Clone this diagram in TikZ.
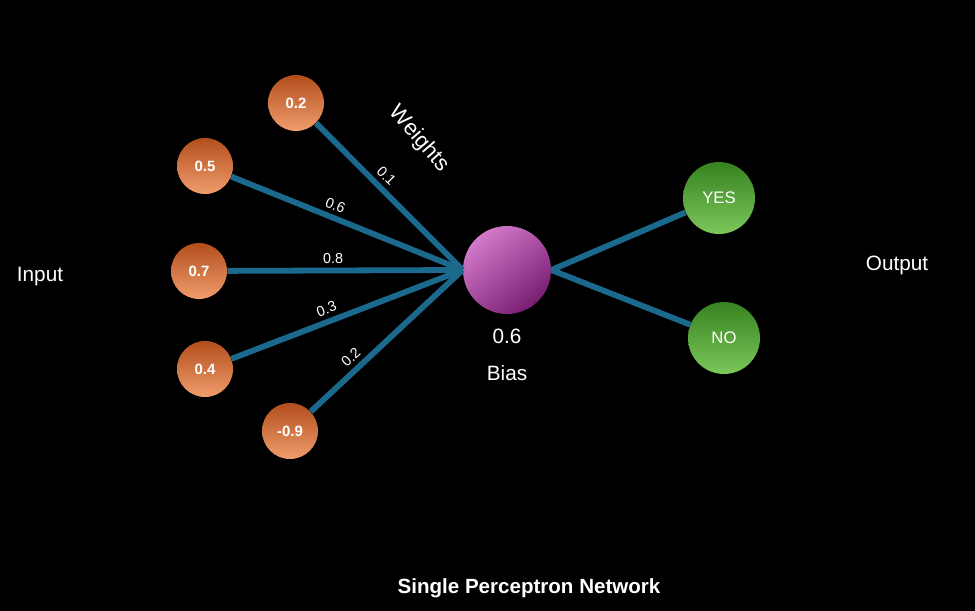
\documentclass[tikz,border=0pt]{standalone}
\usepackage{fontspec}
\setmainfont{Liberation Sans}
\usepackage{tikz}
\usetikzlibrary{positioning, calc}
\definecolor{wire}{HTML}{1B6A8E}
\definecolor{orgtop}{HTML}{B24E1C}
\definecolor{orgmid}{HTML}{DE6A2E}
\definecolor{orgbot}{HTML}{F09C6C}
\definecolor{grntop}{HTML}{37821F}
\definecolor{grnmid}{HTML}{45A02A}
\definecolor{grnbot}{HTML}{7CC85C}
\definecolor{biaslt}{HTML}{D47ACB}
\definecolor{biasmid}{HTML}{A6279E}
\definecolor{biasdk}{HTML}{781D70}
\tikzset{
  inp/.style    = {circle, minimum size=1.12cm, inner sep=0pt, top color=orgtop,
                   middle color=orgmid, bottom color=orgbot, text=white,
                   font=\fontsize{8.5}{10}\selectfont\bfseries},
  outp/.style   = {circle, minimum size=1.44cm, inner sep=0pt, top color=grntop,
                   middle color=grnmid, bottom color=grnbot, text=white,
                   font=\fontsize{9.5}{11}\selectfont},
  neuron/.style = {circle, minimum size=1.76cm, inner sep=0pt, top color=biaslt,
                   middle color=biasmid, bottom color=biasdk, shading angle=40},
  wt/.style     = {draw=wire, line width=3.3pt},
  wlbl/.style   = {font=\fontsize{8.2}{10}\selectfont, text=white, sloped, above,
                   inner sep=2.5pt},
  txt/.style    = {text=white, font=\fontsize{11.8}{14}\selectfont},
}
\begin{document}
\begin{tikzpicture}[x=0.02cm, y=-0.02cm]
  \fill[black] (0,0) rectangle (975,611);
  \useasboundingbox (0,0) rectangle (975,611);

  % inputs
  \node[inp] (x1) at (296,103) {0.2};
  \node[inp] (x2) at (205,166) {0.5};
  \node[inp] (x3) at (199,271) {0.7};
  \node[inp] (x4) at (205,369) {0.4};
  \node[inp] (x5) at (290,431) {-0.9};

  % perceptron and outputs
  \node[neuron] (bias) at (507,270) {};
  \node[outp] (yes) at (719,198) {YES};
  \node[outp] (no)  at (724,338) {NO};

  \node[txt] (biasval) at (507,336) {0.6};
  \node[txt, below=7.4mm of biasval.center, anchor=center] (biaslbl) {Bias};
  \node[txt] (inlbl)  at (40,277)  {Input};
  \node[txt] (outlbl) at (897,265) {Output};
  \node[txt, font=\fontsize{12.5}{15}\selectfont, rotate=-49] (wts) at (419,139) {Weights};
  \node[txt, font=\fontsize{11.7}{14}\selectfont\bfseries] (title) at (529,588) {Single Perceptron Network};

  \draw[wt] (x1) -- node[wlbl, pos=0.42]{0.1} (bias.west);
  \draw[wt] (x2) -- node[wlbl, pos=0.43]{0.6} (bias.west);
  \draw[wt] (x3) -- node[wlbl, pos=0.45]{0.8} (bias.west);
  \draw[wt] (x4) -- node[wlbl, pos=0.43]{0.3} (bias.west);
  \draw[wt] (x5) -- node[wlbl, pos=0.32]{0.2} (bias.west);
  \draw[wt] (bias.east) -- (yes);
  \draw[wt] (bias.east) -- (no);
\end{tikzpicture}
\end{document}
